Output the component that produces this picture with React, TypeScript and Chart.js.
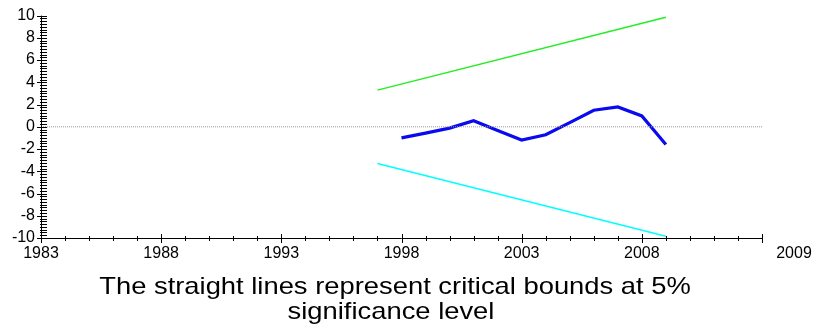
import React, { useEffect, useRef } from "react";
import { Chart, registerables } from "chart.js";

Chart.register(...registerables);

const years = [1998, 1999, 2000, 2001, 2002, 2003, 2004, 2005, 2006, 2007, 2008, 2009];
const cusum = [-1.0, -0.57, -0.12, 0.54, -0.33, -1.19, -0.71, 0.38, 1.49, 1.79, 0.98, -1.6];
const boundYears = [1997, 2009];
const upperBound = [3.3, 9.85];
const lowerBound = [-3.3, -9.85];
const xRange = [1983, 2013];
const xTickLabels = ["1983", "1988", "1993", "1998", "2003", "2008"];
const endLabel = "2009";
const titleLines = ["The straight lines represent critical bounds at 5%", "significance level"];

const FONT = "'Liberation Sans', Arial, sans-serif";

const axesPlugin = {
  id: "eviewsAxes",
  afterDraw(chart: any) {
    const ctx = chart.ctx;
    const xs = chart.scales.x;
    const ys = chart.scales.y;
    const { left, right, top, bottom } = chart.chartArea;
    ctx.save();
    ctx.strokeStyle = "#000";
    ctx.lineWidth = 1;
    ctx.beginPath();
    // y axis line
    ctx.moveTo(left + 0.5, top);
    ctx.lineTo(left + 0.5, bottom);
    // x axis line
    ctx.moveTo(left, bottom + 0.5);
    ctx.lineTo(right, bottom + 0.5);
    // y ticks
    for (let v = -10; v <= 10.001; v += 0.25) {
      const py = Math.round(ys.getPixelForValue(v)) + 0.5;
      const major = Math.abs(v / 2 - Math.round(v / 2)) < 1e-6;
      ctx.moveTo(left - (major ? 4 : 1), py);
      ctx.lineTo(left + 6, py);
    }
    // x ticks
    for (let yv = xRange[0]; yv <= xRange[1]; yv += 1) {
      const px = Math.round(xs.getPixelForValue(yv)) + 0.5;
      const major = (yv - xRange[0]) % 5 === 0 || yv === xRange[1];
      ctx.moveTo(px, bottom - (major ? 4 : 2));
      ctx.lineTo(px, bottom + (major ? 5 : 3));
    }
    ctx.stroke();

    ctx.fillStyle = "#000";
    ctx.font = `16px ${FONT}`;
    ctx.textAlign = "center";
    ctx.textBaseline = "top";
    xTickLabels.forEach((lab) => {
      const px = xs.getPixelForValue(Number(lab));
      ctx.fillText(lab, px, bottom + 8);
    });
    ctx.fillText(endLabel, xs.getPixelForValue(xRange[1]) + 32, bottom + 8);

    ctx.font = `24px ${FONT}`;
    ctx.textBaseline = "alphabetic";
    const sx = 1.14;
    ctx.save();
    ctx.scale(sx, 1);
    ctx.fillText(titleLines[0], 395 / sx, 294);
    ctx.fillText(titleLines[1], 391 / sx, 319);
    ctx.restore();
    ctx.restore();
  },
};

export default function App() {
  const ref = useRef<HTMLCanvasElement | null>(null);
  useEffect(() => {
    if (!ref.current) return;
    const chart = new Chart(ref.current, {
      type: "line",
      data: {
        datasets: [
          {
            label: "zero",
            data: xRange.map((x) => ({ x, y: 0 })),
            borderColor: "#9a9a9a",
            borderWidth: 1,
            borderDash: [1, 1],
            pointRadius: 0,
          },
          {
            label: "Upper",
            data: boundYears.map((x, i) => ({ x, y: upperBound[i] })),
            borderColor: "#22ee22",
            borderWidth: 1.5,
            pointRadius: 0,
          },
          {
            label: "Lower",
            data: boundYears.map((x, i) => ({ x, y: lowerBound[i] })),
            borderColor: "#00ffff",
            borderWidth: 1.5,
            pointRadius: 0,
          },
          {
            label: "CUSUM",
            data: years.map((x, i) => ({ x, y: cusum[i] })),
            borderColor: "#0a0aee",
            borderWidth: 3.2,
            pointRadius: 0,
            tension: 0,
          },
        ],
      },
      options: {
        animation: false,
        responsive: false,
        maintainAspectRatio: false,
        layout: { padding: { left: 6, right: 51, top: 14, bottom: 91 } },
        plugins: { legend: { display: false }, tooltip: { enabled: false }, title: { display: false } },
        scales: {
          x: {
            type: "linear",
            min: xRange[0],
            max: xRange[1],
            display: false,
          },
          y: {
            min: -10,
            max: 10,
            afterFit: (s: any) => {
              s.width = 35;
            },
            ticks: {
              stepSize: 2,
              padding: 6,
              color: "#000",
              font: { family: FONT, size: 16 },
            },
            grid: { display: false, drawTicks: false },
            border: { display: false },
          },
        },
      },
      plugins: [axesPlugin],
    });
    return () => chart.destroy();
  }, []);
  return (
    <div style={{ position: "fixed", left: 0, top: 0, width: 813, height: 329, background: "#fff" }}>
      <canvas ref={ref} width={813} height={329} style={{ width: 813, height: 329 }} />
    </div>
  );
}
